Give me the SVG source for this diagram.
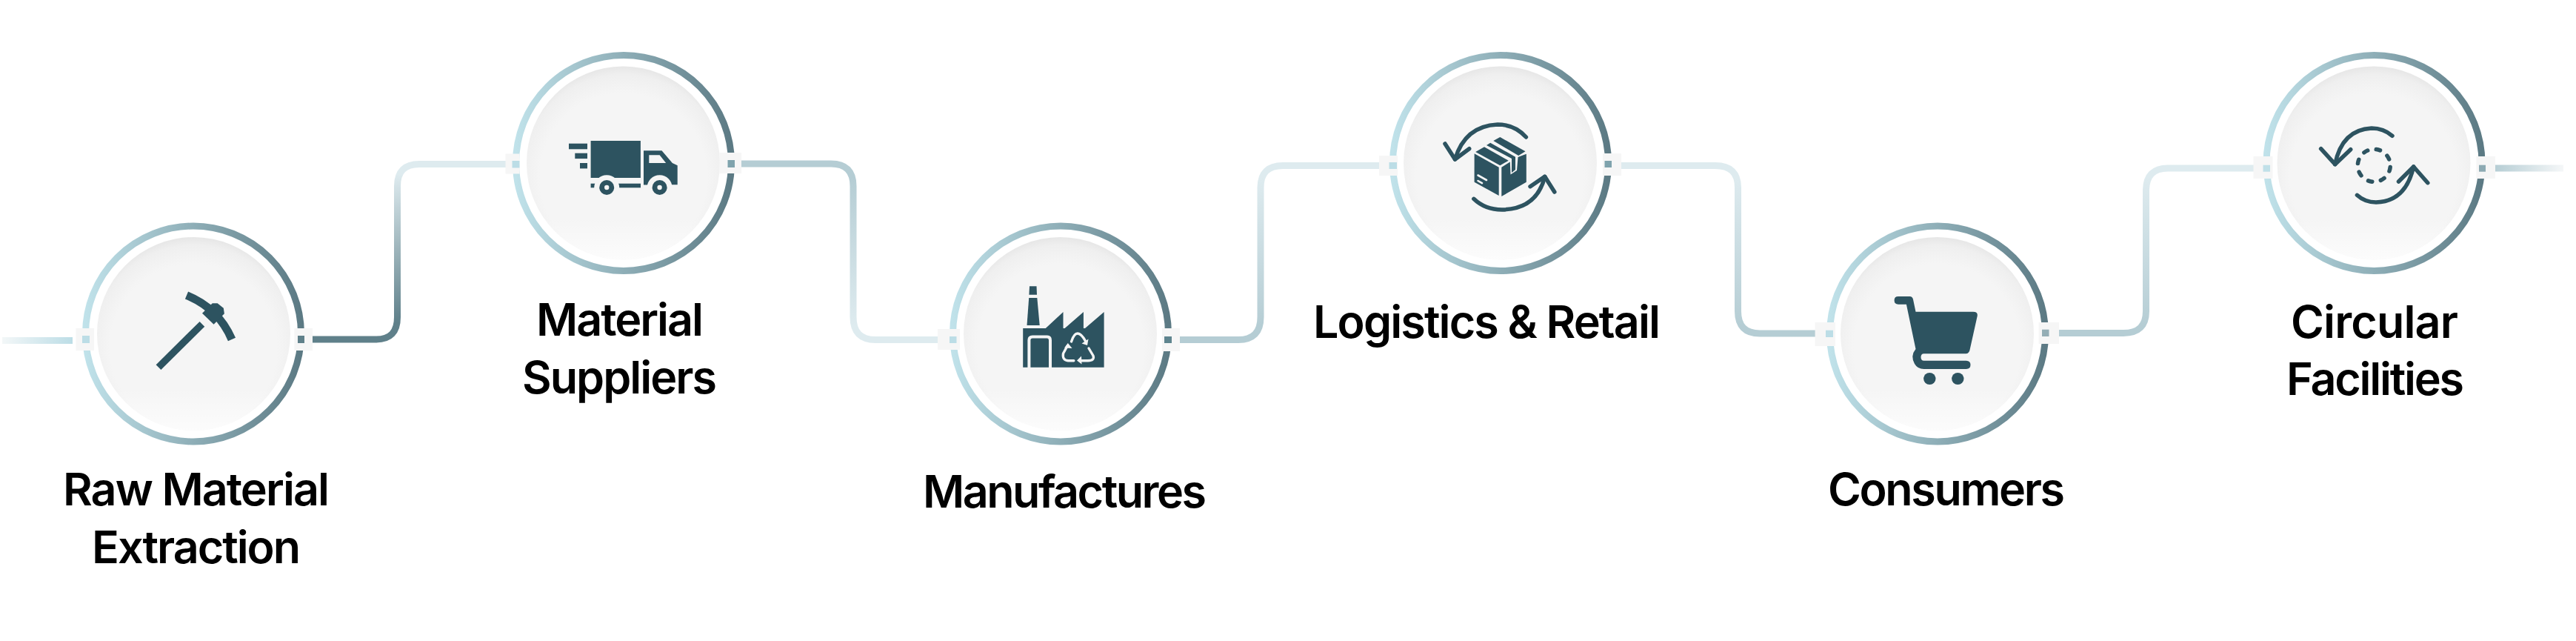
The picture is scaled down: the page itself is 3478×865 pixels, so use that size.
<svg xmlns="http://www.w3.org/2000/svg" width="3478" height="865" viewBox="0 0 3478 865">
<defs>
<linearGradient id="ringG" x1="0" y1="0" x2="1" y2="0"><stop offset="0" stop-color="#c0e2ea"/><stop offset="1" stop-color="#5c7a84"/></linearGradient>
<radialGradient id="discG" cx="0.5" cy="0.57" r="0.6"><stop offset="0.72" stop-color="#f5f5f5"/><stop offset="0.88" stop-color="#efefef"/><stop offset="1" stop-color="#e0e0e0"/></radialGradient>
<linearGradient id="discL" x1="0" y1="0" x2="0" y2="1"><stop offset="0.78" stop-color="#fff" stop-opacity="0"/><stop offset="1" stop-color="#fff" stop-opacity="0.7"/></linearGradient>
<linearGradient id="c0" gradientUnits="userSpaceOnUse" x1="3" y1="0" x2="98" y2="0"><stop offset="0" stop-color="#f3f7f8"/><stop offset="1" stop-color="#bcdde6"/></linearGradient>
<linearGradient id="c1" gradientUnits="userSpaceOnUse" x1="0" y1="235" x2="0" y2="435"><stop offset="0" stop-color="#deebef"/><stop offset="1" stop-color="#5f808a"/></linearGradient>
<linearGradient id="c2" gradientUnits="userSpaceOnUse" x1="0" y1="240" x2="0" y2="440"><stop offset="0" stop-color="#b5cdd4"/><stop offset="1" stop-color="#deebef"/></linearGradient>
<linearGradient id="c3" gradientUnits="userSpaceOnUse" x1="0" y1="240" x2="0" y2="440"><stop offset="0" stop-color="#deebef"/><stop offset="1" stop-color="#b5cdd4"/></linearGradient>
<linearGradient id="c6" gradientUnits="userSpaceOnUse" x1="3367" y1="0" x2="3461" y2="0"><stop offset="0" stop-color="#b5cdd4"/><stop offset="1" stop-color="#f5f7f8"/></linearGradient>
</defs>
<style>
.ring{fill:none;stroke:url(#ringG);stroke-width:9}
.disc{fill:url(#discG)}
.discl{fill:url(#discL)}
.notch{fill:#f6f6f6}
.conn{fill:none;stroke-width:9}
.ic{fill:#2d5360}
.ln{fill:none;stroke:#2d5360;stroke-width:5.5;stroke-linecap:round;stroke-linejoin:round}
.lt{fill:none;stroke:#f5f5f5;stroke-linecap:round;stroke-linejoin:round}
.ltf{fill:#f5f5f5}
.label{font-family:"Inter","Liberation Sans",sans-serif;font-size:61px;font-weight:600;fill:#000}
</style>
<rect width="3478" height="865" fill="#fff"/>
<g id="connectors">
<path class="conn" stroke="url(#c0)" d="M3,459.5H98"/>
<path class="conn" stroke="url(#c1)" d="M420,458H508Q536.5,458 536.5,428V251Q536.5,221.5 566,221.5H683"/>
<path class="conn" stroke="url(#c2)" d="M1001,221H1122Q1152,221 1152,251V428Q1152,458.5 1182,458.5H1274"/>
<path class="conn" stroke="url(#c3)" d="M1590,458.5H1672Q1702,458.5 1702,428V253Q1702,223.5 1732,223.5H1865"/>
<path class="conn" stroke="url(#c3)" d="M2189,223.5H2316Q2346.5,223.5 2346.5,253V420Q2346.5,450 2376,450H2456"/>
<path class="conn" stroke="url(#c3)" d="M2772,449.5H2867Q2897.5,449.5 2897.5,420V257Q2897.5,227 2927,227H3047"/>
<path class="conn" stroke="url(#c6)" d="M3367,227H3461"/>
</g>
<g id="node-raw-material-extraction">
<circle class="ring" cx="261" cy="450.5" r="145.5"/><circle class="disc" cx="261.5" cy="450.5" r="130.5"/><circle class="discl" cx="261.5" cy="450.5" r="130.5"/>
<rect class="notch" x="102.5" y="443" width="24.5" height="30"/><rect x="111" y="453" width="10" height="10" fill="#bcdde6"/>
<rect class="notch" x="397.5" y="443" width="24.5" height="30"/><rect x="402" y="453" width="9" height="10" fill="#5f808a"/>
<path class="ln" style="stroke-width:9.5;stroke-linecap:butt" d="M214,495.7L272.9,437.3"/>
<path class="ln" style="stroke-width:11;stroke-linecap:butt" d="M252,398.5Q295,416 313,458"/>
<polygon class="ic" points="273,422.7 286.8,409.3 293.6,409.3 301.8,415.7 302.9,423.3 288.6,437.7"/>
<text class="label" x="85" y="681.7" textLength="360">Raw Material</text>
<text class="label" x="124" y="759.5" textLength="282">Extraction</text>
</g>
<g id="node-material-suppliers">
<circle class="ring" cx="842" cy="220" r="145.5"/><circle class="disc" cx="841.5" cy="220" r="130.5"/><circle class="discl" cx="841.5" cy="220" r="130.5"/>
<rect class="notch" x="682.5" y="207.5" width="19" height="27"/><rect x="691.5" y="217" width="10" height="9.5" fill="#bcdde6"/>
<rect class="notch" x="971.5" y="206" width="29.5" height="28"/><rect x="982.5" y="216" width="9.5" height="10" fill="#7fa3ad"/>
<rect class="ic" x="768" y="193.7" width="25" height="7.6"/><rect class="ic" x="776.3" y="206.7" width="16.7" height="7.4"/><rect class="ic" x="783" y="220" width="10" height="7.4"/>
<rect class="ic" x="797.6" y="190" width="67.3" height="50"/>
<polygon class="ic" points="869,203.3 893.5,203.3 907.8,220 914.7,223.3 914.7,249.3 869,249.3"/>
<polygon class="ltf" points="876.3,209.3 890.6,209.3 899.2,220 876.3,220"/>
<rect class="ic" x="797.6" y="247.7" width="8.9" height="5.6"/><rect class="ic" x="833" y="247.7" width="32" height="5.6"/>
<circle class="ltf" cx="819.2" cy="253.3" r="17"/><circle class="ltf" cx="890.6" cy="253.3" r="17"/>
<rect class="ic" x="869" y="245" width="5" height="4.3"/>
<circle class="ic" cx="819.2" cy="253" r="10"/><circle class="ltf" cx="819.2" cy="253" r="3.2"/>
<circle class="ic" cx="890.6" cy="253" r="10"/><circle class="ltf" cx="890.6" cy="253" r="3.2"/>
<text class="label" x="724" y="452.7" textLength="226">Material</text>
<text class="label" x="705" y="530.7" textLength="263">Suppliers</text>
</g>
<g id="node-manufactures">
<circle class="ring" cx="1432" cy="450.5" r="145.5"/><circle class="disc" cx="1431.5" cy="450.5" r="130.5"/><circle class="discl" cx="1431.5" cy="450.5" r="130.5"/>
<rect class="notch" x="1266" y="444" width="30" height="28"/><rect x="1282" y="454" width="9.5" height="9" fill="#bcdde6"/>
<rect class="notch" x="1569" y="443" width="24" height="31"/><rect x="1572" y="454" width="10" height="9" fill="#5f858f"/>
<polygon class="ic" points="1390,386.3 1399.5,386.3 1400,397.7 1389.4,397.7"/>
<polygon class="ic" points="1389.2,402 1400.3,402 1403.7,439 1386.5,439"/>
<polygon class="ic" points="1381.2,443 1411.8,443 1435.5,421 1435.5,443 1437.6,443 1462.9,421 1462.9,443 1465,443 1490.6,421 1490.6,495.7 1381.2,495.7"/>
<path class="lt" style="stroke-width:4;stroke-linecap:butt" d="M1389.4,496V459Q1389.4,454.5 1394,454.5H1414Q1418,454.5 1418,459V496"/>
<g class="lt" style="stroke-width:3.4">
<path d="M1446.5,461Q1450,450 1455,450Q1460,450 1466,461"/>
<path d="M1470,470L1476,480Q1478,486.7 1469,486.7H1458"/>
<path d="M1449.8,486.7H1442Q1434,486 1435.5,477L1441,467"/>
</g>
<polygon class="ltf" points="1469.5,457.5 1468,466 1460.5,463.5"/>
<polygon class="ltf" points="1454,486.5 1460,480.5 1460.5,491.5"/>
<polygon class="ltf" points="1441.8,463 1447.5,470 1437,469.5"/>
<text class="label" x="1246" y="685" textLength="383">Manufactures</text>
</g>
<g id="node-logistics-retail">
<circle class="ring" cx="2026" cy="220" r="145.5"/><circle class="disc" cx="2025.5" cy="220" r="130.5"/><circle class="discl" cx="2025.5" cy="220" r="130.5"/>
<rect class="notch" x="1862" y="210" width="25" height="27"/><rect x="1875.5" y="219" width="10.5" height="9" fill="#bcdde6"/>
<rect class="notch" x="2164" y="207" width="25" height="30"/><rect x="2166.5" y="217" width="9.5" height="9" fill="#7fa3ad"/>
<path class="ln" d="M2060.4,185Q2045,168 2022,168Q1978,170 1964.5,215"/>
<path class="ln" d="M1951,194L1964.5,215L1983.7,200.7"/>
<path class="ln" d="M1989.8,268.3Q2005,283 2028,283Q2075,282 2085.7,238.3"/>
<path class="ln" d="M2066,251.7L2085.7,238.3L2098.8,259"/>
<polygon class="ic" points="1990.6,207.3 2023.7,225.7 2023.7,264 1990.6,245.7"/>
<polygon class="ic" points="2027.3,225.7 2038.8,218.5 2039.5,235.5 2048,230 2049.5,212 2060.8,207.7 2060.8,245.7 2027.3,265"/>
<polygon class="ic" points="2004,198.3 1992.2,205 2025.3,223.3 2036.7,216.7"/>
<polygon class="ic" points="2012.2,192.7 2007,196 2041,214 2041,233 2046,229 2046,211.7"/>
<polygon class="ic" points="2025.3,185 2016.3,190 2050.2,210 2059.5,204.3"/>
<path class="lt" style="stroke-width:2.6" d="M1995.5,236.5L2007,243"/><path class="lt" style="stroke-width:2.6" d="M1995.5,244L2001,247.2"/>
<text class="label" x="1773" y="455.7" textLength="469">Logistics &amp; Retail</text>
</g>
<g id="node-consumers">
<circle class="ring" cx="2616" cy="450.5" r="145.5"/><circle class="disc" cx="2615.5" cy="450.5" r="130.5"/><circle class="discl" cx="2615.5" cy="450.5" r="130.5"/>
<rect class="notch" x="2450.6" y="435" width="27.4" height="32"/><rect x="2465" y="445.7" width="10" height="9.3" fill="#bcdde6"/>
<rect class="notch" x="2752.6" y="435" width="27.4" height="29"/><rect x="2757" y="444.7" width="9.5" height="9.3" fill="#94aeb5"/>
<path class="ic" d="M2563,400H2578.5Q2582,400 2583,404L2586.5,420.7H2664Q2670.5,420.7 2669.8,426L2660,470Q2659,477.3 2654.7,477.3H2597.6Q2593.5,477.3 2593.5,482Q2593.5,486.7 2597.6,486.7H2654.7Q2660.5,487 2660.5,492.3Q2660.5,498 2654.7,498H2597.6Q2589,498 2585,491Q2579,480 2586.5,471L2573.9,410.7H2563Q2557.6,410.5 2557.6,405.3Q2557.6,400 2563,400Z"/>
<ellipse class="ic" cx="2605.3" cy="511" rx="8.2" ry="8"/><ellipse class="ic" cx="2643.3" cy="511" rx="8.2" ry="8"/>
<text class="label" x="2468" y="681.7" textLength="320">Consumers</text>
</g>
<g id="node-circular-facilities">
<circle class="ring" cx="3205.5" cy="220" r="145.5"/><circle class="disc" cx="3205" cy="220" r="130.5"/><circle class="discl" cx="3205" cy="220" r="130.5"/>
<rect class="notch" x="3042.5" y="211" width="26" height="30"/><rect x="3055.5" y="222.7" width="9.5" height="9" fill="#c0e0e8"/>
<rect class="notch" x="3343.4" y="211" width="25.6" height="30"/><rect x="3347" y="222.7" width="9" height="9" fill="#8daab3"/>
<path class="ln" d="M3230,183.3Q3218,173 3202,173Q3162,175 3152.7,221.7"/>
<path class="ln" d="M3133.6,200.7L3152.7,221.7L3173.7,201.7"/>
<path class="ln" d="M3182.4,263.3Q3193,273 3208,273Q3248,272 3258.7,225"/>
<path class="ln" d="M3238.5,245L3258.7,225L3277.8,246.7"/>
<circle cx="3205.3" cy="223.3" r="22" fill="none" stroke="#2d5360" stroke-width="5.5" stroke-linecap="round" stroke-dasharray="5.5 11.78" transform="rotate(6 3205.3 223.3)"/>
<text class="label" x="3093" y="455.7" textLength="226">Circular</text>
<text class="label" x="3087" y="533.3" textLength="240">Facilities</text>
</g>
</svg>
